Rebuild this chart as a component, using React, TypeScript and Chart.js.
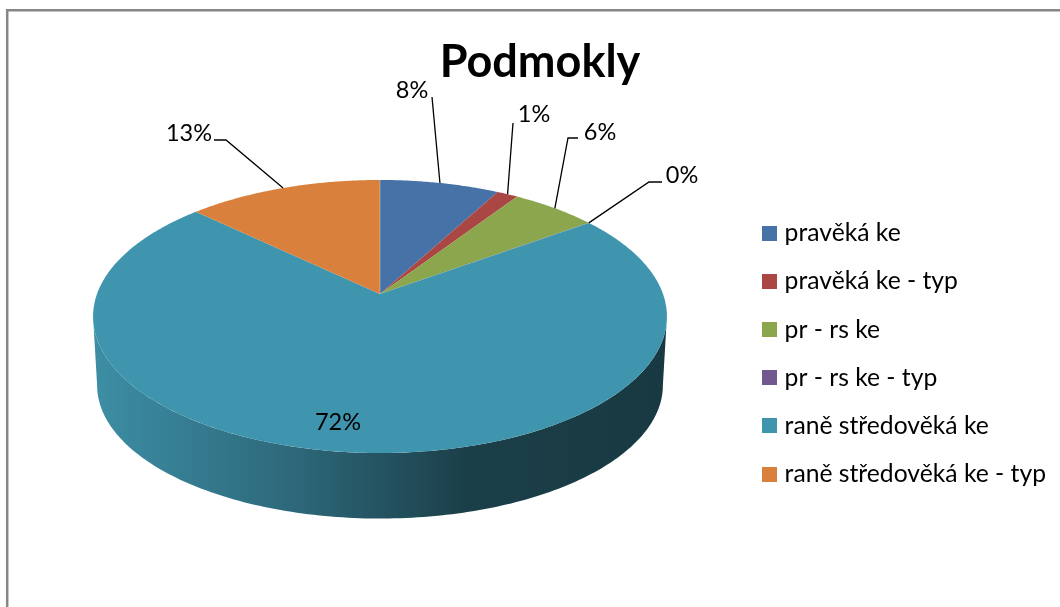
import React, { useEffect, useRef } from "react";
import { Chart, registerables } from "chart.js";

Chart.register(...registerables);

const titleText = "Podmokly";
const categories = [
  "pravěká ke",
  "pravěká ke - typ",
  "pr - rs ke",
  "pr - rs ke - typ",
  "raně středověká ke",
  "raně středověká ke - typ",
];
const shares = [7.9, 1.4, 5.7, 0.01, 72.09, 12.9];
const colors = ["#4672A8", "#AA4644", "#8BA64D", "#71588F", "#4095AE", "#D9813C"];

// Projection of the flat pie to a tilted disc
const CX = 380;
const CY = 294;
const TOP = { a: 283, b: 132.8, cy: CY };
const BOTTOM = { a: 279, b: 129.5, cy: 363.5 };
const P = -0.1648;
const FRONT_START = Math.asin(-P);
const FRONT_END = Math.PI - FRONT_START;

const project = (angle: number, s: { a: number; b: number; cy: number }) => {
  const u = Math.cos(angle);
  const v = Math.sin(angle);
  const w = 1 + P * v;
  return { x: CX + (s.a * u) / w, y: s.cy + (s.b * v) / w };
};

const shade = (hex: string, k: number) => {
  const n = parseInt(hex.slice(1), 16);
  const c = [(n >> 16) & 255, (n >> 8) & 255, n & 255].map((q) => Math.round(q * k));
  return `rgb(${c[0]},${c[1]},${c[2]})`;
};

const swatch = (color: string) => {
  const c = document.createElement("canvas");
  c.width = 15;
  c.height = 15;
  const g = c.getContext("2d")!;
  g.fillStyle = color;
  g.fillRect(0, 0, 15, 15);
  return c;
};

// [text x, text y, elbow x, elbow y, leader end x, leader end y] for each label
const labelLayout: (number[] | null)[] = [
  [412, 90, 432, 97],
  [534, 114, 513, 123],
  [600, 132, 568, 138, 578, 138],
  [682, 175, 649, 182, 662, 182],
  null,
  [189, 133, 226, 140, 214, 140],
];
const insideLabel = { index: 4, x: 338, y: 422 };

const LABEL_FONT = "23.5px Lato";

const pie3d = {
  id: "pie3d",
  beforeDraw(chart: any) {
    const { ctx } = chart;
    ctx.save();
    ctx.strokeStyle = "#868686";
    ctx.lineWidth = 2.5;
    ctx.beginPath();
    ctx.moveTo(7.2, 607);
    ctx.lineTo(7.2, 10.2);
    ctx.lineTo(1060, 10.2);
    ctx.stroke();
    ctx.restore();
  },
  beforeDatasetDraw(chart: any) {
    const { ctx } = chart;
    const arcs = chart.getDatasetMeta(0).data;
    const step = Math.PI / 180;
    arcs.forEach((arc: any, i: number) => {
      const from = Math.max(arc.startAngle, FRONT_START);
      const to = Math.min(arc.endAngle, FRONT_END);
      if (to <= from) return;
      const grad = ctx.createLinearGradient(93, 0, 667, 0);
      grad.addColorStop(0, shade(colors[i], 0.95));
      grad.addColorStop(0.35, shade(colors[i], 0.7));
      grad.addColorStop(0.65, shade(colors[i], 0.42));
      grad.addColorStop(1, shade(colors[i], 0.38));
      ctx.fillStyle = grad;
      ctx.beginPath();
      const angles: number[] = [];
      for (let t = from; t < to; t += step) angles.push(t);
      angles.push(to);
      angles.forEach((t, k) => {
        const p = project(t, TOP);
        if (k === 0) ctx.moveTo(p.x, p.y);
        else ctx.lineTo(p.x, p.y);
      });
      angles
        .slice()
        .reverse()
        .forEach((t) => {
          const p = project(t, BOTTOM);
          ctx.lineTo(p.x, p.y);
        });
      ctx.closePath();
      ctx.fill();
    });
    arcs.forEach((arc: any, i: number) => {
      const { startAngle, endAngle } = arc;
      ctx.fillStyle = colors[i];
      ctx.beginPath();
      ctx.moveTo(CX, CY);
      for (let t = startAngle; t < endAngle; t += step / 2) {
        const p = project(t, TOP);
        ctx.lineTo(p.x, p.y);
      }
      const e = project(endAngle, TOP);
      ctx.lineTo(e.x, e.y);
      ctx.closePath();
      ctx.fill();
    });
    // light seam where the circle starts
    const s = project(arcs[0].startAngle, TOP);
    ctx.strokeStyle = "rgba(255,255,255,0.35)";
    ctx.lineWidth = 1;
    ctx.beginPath();
    ctx.moveTo(CX, CY);
    ctx.lineTo(s.x, s.y);
    ctx.stroke();
    return false;
  },
  afterDatasetsDraw(chart: any) {
    const { ctx } = chart;
    const arcs = chart.getDatasetMeta(0).data;
    ctx.save();
    ctx.font = LABEL_FONT;
    ctx.textAlign = "center";
    ctx.textBaseline = "middle";
    ctx.strokeStyle = "#000";
    ctx.fillStyle = "#000";
    ctx.lineWidth = 1.3;
    arcs.forEach((arc: any, i: number) => {
      const text = `${Math.round(shares[i])}%`;
      const l = labelLayout[i];
      if (!l) {
        ctx.fillText(text, insideLabel.x, insideLabel.y);
        return;
      }
      const anchor = project((arc.startAngle + arc.endAngle) / 2, TOP);
      ctx.beginPath();
      ctx.moveTo(anchor.x, anchor.y);
      ctx.lineTo(l[2], l[3]);
      if (l.length > 4) ctx.lineTo(l[4], l[5]);
      ctx.stroke();
      ctx.fillText(text, l[0], l[1]);
    });
    ctx.restore();
  },
};

export default function App() {
  const ref = useRef<HTMLCanvasElement>(null);
  useEffect(() => {
    document.body.style.margin = "0";
    const chart = new Chart(ref.current!, {
      type: "pie",
      data: {
        labels: categories,
        datasets: [{ data: shares, backgroundColor: colors, borderWidth: 0 }],
      },
      plugins: [pie3d],
      options: {
        animation: false,
        responsive: false,
        events: [],
        layout: { padding: { left: 24, right: 4, top: 0, bottom: 97 } },
        plugins: {
          tooltip: { enabled: false },
          title: {
            display: true,
            text: titleText,
            color: "#000",
            font: { family: "Lato", size: 45, weight: "bold" },
            padding: { top: 35, bottom: 4 },
          },
          legend: {
            position: "right",
            align: "end",
            labels: {
              boxWidth: 15,
              boxHeight: 15,
              usePointStyle: true,
              pointStyleWidth: 5,
              padding: 23.5,
              color: "#000",
              font: { family: "Lato", size: 24.7 },
              generateLabels(c: any) {
                const base = (Chart as any).overrides.pie.plugins.legend.labels.generateLabels(c);
                return base.map((item: any, i: number) => ({ ...item, pointStyle: swatch(colors[i]) }));
              },
            },
          },
        },
      },
    } as any);
    return () => chart.destroy();
  }, []);
  return (
    <div style={{ position: "fixed", inset: 0, background: "#fff", overflow: "hidden" }}>
      <canvas ref={ref} width={1060} height={607} style={{ display: "block" }} />
    </div>
  );
}
